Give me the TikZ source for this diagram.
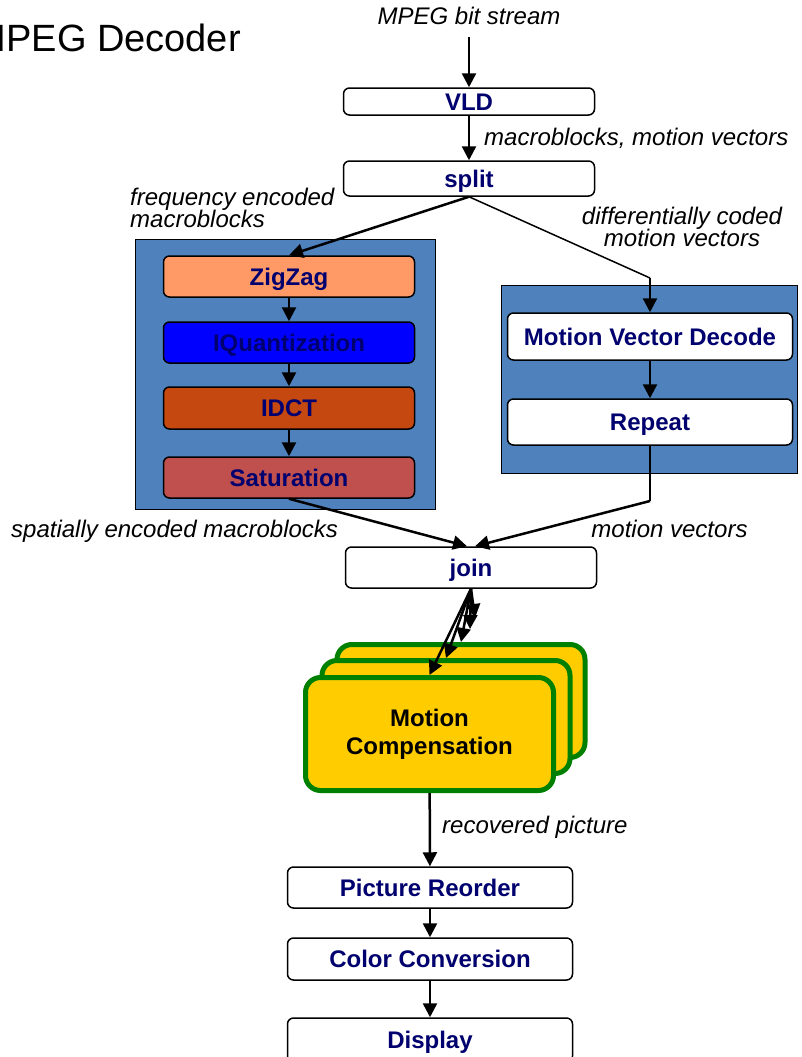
\documentclass[tikz,border=0pt]{standalone}
\usepackage{fontspec}
\setmainfont{Liberation Sans}
\usetikzlibrary{arrows.meta}
\setlength{\lineskiplimit}{-20pt}

\definecolor{navytext}{RGB}{0,0,110}
\definecolor{grpblue}{RGB}{79,129,189}
\definecolor{zzorange}{RGB}{255,153,102}
\definecolor{iqblue}{RGB}{0,0,255}
\definecolor{idctbrown}{RGB}{197,72,16}
\definecolor{satred}{RGB}{192,80,77}
\definecolor{mcyellow}{RGB}{255,204,0}
\definecolor{mcgreen}{RGB}{0,128,0}

\begin{document}
\begin{tikzpicture}[x=1pt, y=-1pt,
    box/.style={draw, line width=1.5pt, rounded corners=6pt, fill=white,
        minimum width=251pt, minimum height=41pt, inner sep=0pt,
        text height=17pt, text depth=0pt,
        font=\fontsize{24}{28}\selectfont\bfseries, text=navytext},
    group/.style={draw, line width=1.5pt, fill=grpblue, inner sep=0pt},
    mcbox/.style={draw=mcgreen, line width=5pt, fill=mcyellow, rounded corners=15pt,
        minimum width=248pt, minimum height=113pt, inner sep=0pt},
    lbl/.style={font=\fontsize{24}{22.5}\selectfont\itshape, inner sep=0pt},
    flow/.style={line width=2.5pt, -{Triangle[width=14pt,length=14pt]}},
    thin flow/.style={line width=1.5pt}]
    \useasboundingbox (0,0) rectangle (802,1057);

    \node[anchor=base east, inner sep=0pt, font=\fontsize{38}{40}\selectfont] (title) at (241,52) {MPEG Decoder};

    % the two groups
    \node[group, minimum width=300pt, minimum height=270pt] (freqgrp) at (285.5,374.5) {};
    \node[group, minimum width=296pt, minimum height=188pt] (motiongrp) at (649.5,379.5) {};

    \node[box, minimum height=27pt] (vld) at (469,101.5) {VLD};
    \node[box, minimum height=35pt] (split) at (469,178.5) {split};

    \node[box, fill=zzorange] (zigzag) at (289,276.5) {ZigZag};
    \node[box, fill=iqblue] (iquant) at (289,342.5) {IQuantization};
    \node[box, fill=idctbrown, minimum height=42pt] (idct) at (289,408) {IDCT};
    \node[box, fill=satred] (satur) at (289,477.5) {Saturation};

    \node[box, minimum width=285pt, minimum height=47pt] (mvdecode) at (650,336.5) {Motion Vector Decode};
    \node[box, minimum width=285pt, minimum height=46pt] (repeat) at (650,422) {Repeat};

    \node[box] (join) at (471,567.5) {join};

    % motion compensation, three deep
    \node[mcbox] (mcback) at (461,701) {};
    \node[mcbox] (mcmid) at (446,717) {};
    \node[mcbox, align=center, font=\fontsize{24}{28}\selectfont\bfseries] (mc) at (429.5,734) {Motion\\Compensation};

    \node[box, minimum width=285pt] (reorder) at (430,887.5) {Picture Reorder};
    \node[box, minimum width=285pt, minimum height=42pt] (colorconv) at (430,959) {Color Conversion};
    \node[box, minimum width=285pt, minimum height=44pt] (display) at (430,1040) {Display};

    % labels
    \node[lbl, anchor=base] (bitstream) at (469,25) {MPEG bit stream};
    \node[lbl, anchor=base west] (mbmv) at (484,145) {macroblocks, motion vectors};
    \node[lbl, anchor=north west, align=left] (freqlbl) at (130,187.5) {frequency encoded\\macroblocks};
    \node[lbl, anchor=north, align=center] (difflbl) at (682,206.5) {differentially coded\\motion vectors};
    \node[lbl, anchor=base west] (spatlbl) at (11,537) {spatially encoded macroblocks};
    \node[lbl, anchor=base] (mvlbl) at (669.5,537) {motion vectors};
    \node[lbl, anchor=base west] (reclbl) at (442,833) {recovered picture};

    \coordinate (streamin) at (469,37);
    \coordinate (mvbend) at (650,278);
    \coordinate (joinbend) at (650,501);
    \coordinate (mcx1) at (470,629);
    \coordinate (mcx2) at (475,618);

    \draw[flow] (streamin) -- (vld);
    \draw[flow] (vld) -- (split);
    \draw[flow] (split.south) -- (zigzag.north);
    \draw[thin flow] (split.south) -- (mvbend);
    \draw[flow] (mvbend) -- (mvdecode.north);

    \draw[flow] (zigzag) -- (iquant);
    \draw[flow] (iquant) -- (idct);
    \draw[flow] (idct) -- (satur);
    \draw[flow] (mvdecode) -- (repeat);

    \draw[flow] (satur.south) -- ([xshift=-4pt]join.north);
    \draw[thin flow] (repeat.south) -- (joinbend);
    \draw[flow] (joinbend) -- ([xshift=4pt]join.north);

    \foreach \t in {mcx2, mcx1, mcback.north, mcmid.north, mc.north}
        \draw[flow] (join.south) -- (\t);

    \draw[flow] (mc) -- (reorder);
    \draw[flow] (reorder) -- (colorconv);
    \draw[flow] (colorconv) -- (display);
\end{tikzpicture}
\end{document}
